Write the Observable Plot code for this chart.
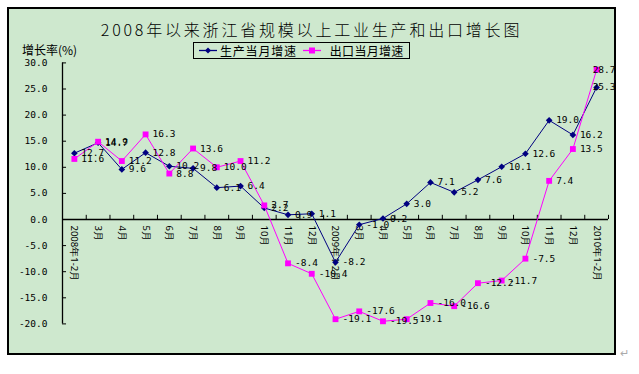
<!DOCTYPE html>
<html><head><meta charset="utf-8">
<script src="https://cdn.jsdelivr.net/npm/d3@7"></script>
<script src="https://cdn.jsdelivr.net/npm/@observablehq/plot@0.6"></script>
<style>
body{margin:0;background:#fff;}
#wrap{position:relative;width:639px;height:374px;overflow:hidden;font-family:"Noto Sans CJK SC","Noto Sans",sans-serif;}
#frame{position:absolute;left:7px;top:7px;width:605px;height:344px;border:2px solid #000;background:#cee8ce;}
#title{position:absolute;left:8px;width:607px;top:18px;line-height:22px;text-align:center;font-size:16px;font-weight:300;letter-spacing:2.8px;color:#000;}
#ylab{position:absolute;left:22px;top:42px;line-height:16px;font-size:12px;color:#000;}
#legend{position:absolute;left:193px;top:42px;width:215px;height:15px;border:1px solid #000;display:flex;align-items:center;font-size:12px;line-height:15px;color:#000;white-space:nowrap;}
#legend svg{display:block}
#chart{position:absolute;left:0;top:0;}
#ret{position:absolute;left:620px;top:344px;font-size:11px;color:#aaa;}
</style></head>
<body><div id="wrap">
<div id="frame"></div>
<div id="title"></div>
<div id="ylab"></div>
<div id="legend"></div>
<div id="chart"></div>
<div id="ret">↵</div>
</div>
<script>
const titleText = "2008年以来浙江省规模以上工业生产和出口增长图";
const yAxisLabel = "增长率(%)";
const seriesNames = ["生产当月增速", "出口当月增速"];
const categories = ["2008年1-2月","3月","4月","5月","6月","7月","8月","9月","10月","11月","12月",
  "2009年1-2月","3月","4月","5月","6月","7月","8月","9月","10月","11月","12月","2010年1-2月"];
const production = [12.7,14.7,9.6,12.8,10.2,9.8,6.1,6.4,2.2,0.9,1.1,-8.2,-1.0,0.2,3.0,7.1,5.2,7.6,10.1,12.6,19.0,16.2,25.3];
const exportGrowth = [11.6,14.9,11.2,16.3,8.8,13.6,10.0,11.2,2.7,-8.4,-10.4,-19.1,-17.6,-19.5,-19.1,-16.0,-16.6,-12.2,-11.7,-7.5,7.4,13.5,28.7];
const yTicks = [-20,-15,-10,-5,0,5,10,15,20,25,30];

const prodColor = "#000080", expColor = "#ff00ff";
document.getElementById("title").textContent = titleText;
document.getElementById("ylab").textContent = yAxisLabel;

const legend = document.getElementById("legend");
function swatch(color, shape){
  const s = shape === "diamond"
    ? `<path d="M10,4.5 L13,7.5 L10,10.5 L7,7.5Z" fill="${color}"/>`
    : `<rect x="7" y="4.5" width="6" height="6" fill="${color}"/>`;
  return `<svg width="20" height="15"><line x1="1" x2="19" y1="7.5" y2="7.5" stroke="${color}" stroke-width="1.3"/>${s}</svg>`;
}
legend.innerHTML = `<span style="width:4px"></span>${swatch(prodColor,"diamond")}<span style="margin-left:2px;letter-spacing:0.8px">${seriesNames[0]}</span><span style="width:5px"></span>${swatch(expColor,"square")}<span style="margin-left:8px;letter-spacing:0.3px">${seriesNames[1]}</span>`;

const prod = production.map((v,i)=>({i, v}));
const exp = exportGrowth.map((v,i)=>({i, v}));
const n = categories.length;
const boundaries = d3.range(n + 1).map(k => k - 0.5);
const mono = "DejaVu Sans Mono, monospace";
const fmt = v => v.toFixed(1);

const chart = Plot.plot({
  width: 639, height: 374,
  marginLeft: 62, marginRight: 31, marginTop: 62.4, marginBottom: 50.6,
  style: {background: "transparent", overflow: "visible"},
  x: {type: "linear", domain: [-0.5, n - 0.5], axis: null},
  y: {domain: [-20, 30], axis: null},
  marks: [
    Plot.ruleX([-0.5], {y1: -20, y2: 30, stroke: "#000", strokeWidth: 1.3}),
    Plot.ruleY(yTicks, {x1: -0.5, x2: -0.33, stroke: "#000"}),
    Plot.text(yTicks, {x: -0.5, y: d => d, text: fmt, textAnchor: "end", dx: -15, fontFamily: mono, fontSize: 9.5, fill: "#000"}),
    Plot.ruleY([0], {x1: -0.5, x2: n - 0.5, stroke: "#000", strokeWidth: 1.3}),
    Plot.ruleX(boundaries.slice(1), {y1: 0, y2: 0.8, stroke: "#000"}),
    Plot.text(categories, {x: (d,i) => i, y: 0, text: d => d, rotate: 90, textAnchor: "start", lineAnchor: "middle", dy: 6, fontSize: 9.5, fill: "#000"}),
    Plot.line(prod, {x: "i", y: "v", stroke: prodColor, strokeWidth: 1}),
    Plot.dot(prod, {x: "i", y: "v", symbol: "diamond2", r: 3, fill: prodColor, stroke: null}),
    Plot.line(exp, {x: "i", y: "v", stroke: expColor, strokeWidth: 1}),
    Plot.dot(exp, {x: "i", y: "v", symbol: "square", r: 3.3, fill: expColor, stroke: null}),
    Plot.text(prod.filter(d => d.i < n - 1), {x: "i", y: "v", text: d => fmt(d.v), textAnchor: "start", dx: 7, fontFamily: mono, fontSize: 9.5, fill: "#000"}),
    Plot.text(exp.filter(d => d.i < n - 1), {x: "i", y: "v", text: d => fmt(d.v), textAnchor: "start", dx: 7, fontFamily: mono, fontSize: 9.5, fill: "#000"}),
    Plot.text(prod.filter(d => d.i === n - 1), {x: "i", y: "v", text: d => fmt(d.v), textAnchor: "start", dx: -4, fontFamily: mono, fontSize: 9.5, fill: "#000"}),
    Plot.text(exp.filter(d => d.i === n - 1), {x: "i", y: "v", text: d => fmt(d.v), textAnchor: "start", dx: -4, fontFamily: mono, fontSize: 9.5, fill: "#000"})
  ]
});
document.getElementById("chart").appendChild(chart);
</script>
</body></html>
